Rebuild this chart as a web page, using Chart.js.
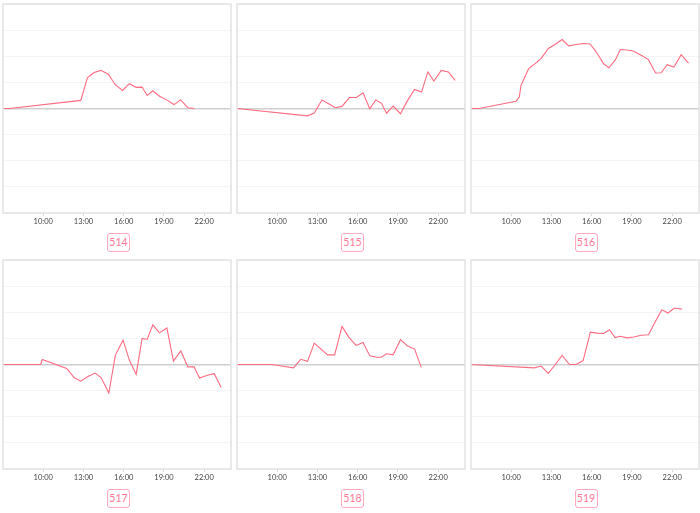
<!DOCTYPE html>
<html>
<head>
<meta charset="utf-8">
<script src="https://cdn.jsdelivr.net/npm/chart.js@4.4.1/dist/chart.umd.min.js"></script>
<style>
  body { margin: 0; background: #fff; width: 700px; height: 513px; overflow: hidden; position: relative; font-family: Lato, sans-serif; }
  .panel { position: absolute; }
  .tag {
    position: absolute; box-sizing: border-box; width: 23px; height: 19px;
    border: 1px solid #ffa8be; border-radius: 3px; color: #ff7898;
    font-size: 10.5px; line-height: 17px; text-align: center;
  }
</style>
</head>
<body>
<script>
// hours (decimal) and values for each chart
const hours514 = [7, 7.5, 12.8, 13.3, 13.8, 14.3, 14.85, 15.38, 15.92, 16.42, 16.93, 17.37, 17.75, 18.17, 18.67, 19.2, 19.75, 20.25, 20.78, 21.28]
const values514 = [0, 0, 0.31, 1.18, 1.38, 1.46, 1.31, 0.9, 0.69, 0.95, 0.81, 0.82, 0.5, 0.68, 0.47, 0.33, 0.15, 0.33, 0.03, 0]

const hours515 = [7, 12.26, 12.76, 13.33, 13.83, 14.33, 14.83, 15.38, 15.9, 16.4, 16.9, 17.35, 17.77, 18.15, 18.64, 19.19, 19.72, 20.24, 20.76, 21.23, 21.68, 22.23, 22.76, 23.26]
const values515 = [0, -0.28, -0.17, 0.33, 0.18, 0.03, 0.08, 0.42, 0.42, 0.6, -0.01, 0.33, 0.2, -0.18, 0.09, -0.2, 0.31, 0.73, 0.63, 1.4, 1.05, 1.46, 1.4, 1.08]

const hours516 = [7, 7.6, 10.36, 10.6, 10.73, 11.3, 11.78, 12.22, 12.77, 13.29, 13.79, 14.29, 14.84, 15.38, 15.88, 16.33, 16.88, 17.28, 17.75, 18.14, 18.64, 19.14, 19.69, 20.23, 20.76, 21.18, 21.63, 22.13, 22.67, 23.22]
const values516 = [0, 0, 0.28, 0.44, 0.88, 1.53, 1.72, 1.91, 2.3, 2.46, 2.64, 2.4, 2.45, 2.49, 2.47, 2.17, 1.72, 1.56, 1.85, 2.26, 2.24, 2.19, 2.04, 1.87, 1.36, 1.37, 1.68, 1.59, 2.06, 1.74]

const hours517 = [7, 9.81, 9.93, 11.75, 12.3, 12.8, 13.3, 13.87, 14.31, 14.89, 15.38, 15.95, 16.43, 16.93, 17.37, 17.75, 18.17, 18.67, 19.22, 19.71, 20.26, 20.78, 21.25, 21.65, 22.25, 22.75, 23.27]
const values517 = [0, 0, 0.19, -0.15, -0.5, -0.64, -0.47, -0.33, -0.5, -1.09, 0.36, 0.93, 0.16, -0.38, 1.0, 0.96, 1.52, 1.21, 1.4, 0.13, 0.52, -0.09, -0.09, -0.52, -0.41, -0.35, -0.88]

const hours518 = [7, 9.6, 11.21, 11.76, 12.26, 12.76, 13.75, 14.28, 14.83, 15.33, 15.88, 16.4, 16.9, 17.4, 17.75, 18.15, 18.64, 19.19, 19.69, 20.24, 20.74]
const values518 = [0, 0, -0.13, 0.2, 0.12, 0.82, 0.37, 0.37, 1.46, 1.05, 0.73, 0.84, 0.33, 0.28, 0.28, 0.41, 0.37, 0.95, 0.72, 0.59, -0.11]

const hours519 = [7, 11.72, 12.22, 12.77, 13.29, 13.79, 14.34, 14.84, 15.36, 15.9, 16.4, 16.9, 17.32, 17.75, 18.14, 18.64, 19.14, 19.69, 20.23, 20.76, 21.23, 21.68, 22.17, 22.72]
const values519 = [0, -0.13, -0.06, -0.34, 0.0, 0.35, 0, 0, 0.15, 1.24, 1.2, 1.19, 1.33, 1.03, 1.08, 1.02, 1.05, 1.12, 1.14, 1.66, 2.1, 1.97, 2.16, 2.12]

const xTicks = [10, 13, 16, 19, 22]

const panels = [
  { label: '514', hours: hours514, values: values514, left: 3, top: 3.5 },
  { label: '515', hours: hours515, values: values515, left: 237, top: 3.5 },
  { label: '516', hours: hours516, values: values516, left: 470.5, top: 3.5 },
  { label: '517', hours: hours517, values: values517, left: 3, top: 259.5 },
  { label: '518', hours: hours518, values: values518, left: 237, top: 259.5 },
  { label: '519', hours: hours519, values: values519, left: 470.5, top: 259.5 }
]

const areaW = 228
const areaH = 209
const pad = 3
const axisH = 14

// box around the plot area
const frame = {
  id: 'frame',
  afterDraw(chart) {
    const { ctx, chartArea: a } = chart
    ctx.save()
    ctx.strokeStyle = '#e2e2e2'
    ctx.lineWidth = 1.5
    ctx.strokeRect(a.left, a.top, a.right - a.left, a.bottom - a.top)
    ctx.restore()
  }
}

panels.forEach(p => {
  const wrap = document.createElement('div')
  wrap.className = 'panel'
  wrap.style.left = (p.left - pad) + 'px'
  wrap.style.top = (p.top - pad) + 'px'
  wrap.style.width = (areaW + pad * 2) + 'px'
  wrap.style.height = (areaH + pad + axisH) + 'px'
  const canvas = document.createElement('canvas')
  wrap.appendChild(canvas)
  document.body.appendChild(wrap)

  const tag = document.createElement('div')
  tag.className = 'tag'
  tag.textContent = p.label
  tag.style.left = (p.left + areaW / 2 - 10) + 'px'
  tag.style.top = (p.top + areaH + 20) + 'px'
  document.body.appendChild(tag)

  new Chart(canvas, {
    type: 'line',
    data: {
      datasets: [{
        data: p.hours.map((h, i) => ({ x: h, y: p.values[i] })),
        borderColor: '#ff6b81',
        borderWidth: 1.1,
        pointRadius: 0,
        tension: 0,
        fill: false
      }]
    },
    plugins: [frame],
    options: {
      responsive: true,
      maintainAspectRatio: false,
      animation: false,
      layout: { padding: { left: pad, right: pad, top: pad, bottom: 0 } },
      plugins: {
        legend: { display: false },
        tooltip: { enabled: false }
      },
      scales: {
        x: {
          type: 'linear',
          min: 7,
          max: 24,
          afterBuildTicks: scale => { scale.ticks = xTicks.map(v => ({ value: v })) },
          afterFit: scale => { scale.height = axisH },
          grid: { drawOnChartArea: false, tickLength: 3, color: '#d8d8d8' },
          border: { display: false },
          ticks: {
            padding: 1,
            maxRotation: 0,
            color: '#444',
            font: { family: 'Lato', size: 7.5 },
            callback: v => v + ':00'
          }
        },
        y: {
          min: -4,
          max: 4,
          afterFit: scale => { scale.width = 0 },
          ticks: { display: false, stepSize: 1 },
          border: { display: false },
          grid: {
            drawTicks: false,
            color: c => c.tick.value === 0 ? '#cfcfcf' : '#f4f4f4',
            lineWidth: c => c.tick.value === 0 ? 1.5 : 1
          }
        }
      }
    }
  })
})
</script>
</body>
</html>
